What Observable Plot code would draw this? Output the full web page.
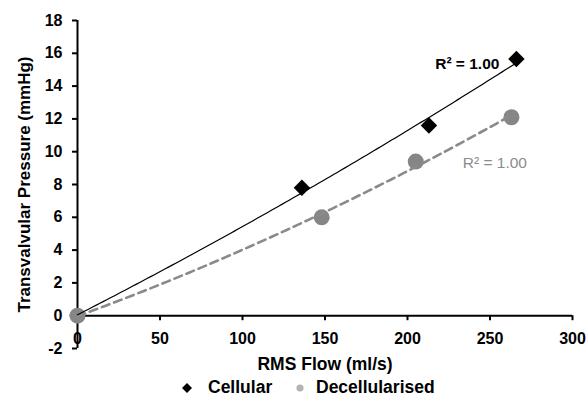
<!DOCTYPE html>
<html>
<head>
<meta charset="utf-8">
<script src="https://cdn.jsdelivr.net/npm/d3@7"></script>
<script src="https://cdn.jsdelivr.net/npm/@observablehq/plot@0.6"></script>
<style>
  html, body { margin: 0; padding: 0; background: #fff; }
  body { width: 587px; height: 397px; overflow: hidden; font-family: "Liberation Sans", Arial, sans-serif; }
  #legend { position: relative; height: 17px; font-weight: bold; font-size: 17.5px; color: #000; }
  .item { position: absolute; top: 0; height: 17px; line-height: 17px; white-space: nowrap; }
  .sw { position: absolute; }
</style>
</head>
<body>
<div id="chart"></div>
<div id="legend"></div>
<script>
// ---- data ----
const seriesNames = ["Cellular", "Decellularised"];
const flowCellular = [0, 136, 213, 266];
const pressureCellular = [0, 7.8, 11.6, 15.65];
const flowDecell = [0, 148, 205, 263];
const pressureDecell = [0, 6.0, 9.4, 12.1];
const xTicks = [0, 50, 100, 150, 200, 250, 300];
const yTicks = [-2, 0, 2, 4, 6, 8, 10, 12, 14, 16, 18];
const r2Labels = ["R\u00b2 = 1.00", "R\u00b2 = 1.00"];
const xLabel = "RMS Flow (ml/s)";
const yLabel = "Transvalvular Pressure (mmHg)";

const cellular = flowCellular.map((x, i) => ({x, y: pressureCellular[i]}));
const decell = flowDecell.map((x, i) => ({x, y: pressureDecell[i]}));

// second-order polynomial trendline (least squares), as in the original chart
function quadFit(pts) {
  let S = [0,0,0,0,0], T = [0,0,0];
  for (const {x, y} of pts) {
    for (let k = 0; k < 5; k++) S[k] += Math.pow(x, k);
    for (let k = 0; k < 3; k++) T[k] += y * Math.pow(x, k);
  }
  const M = [[S[0],S[1],S[2]],[S[1],S[2],S[3]],[S[2],S[3],S[4]]];
  const det = m => m[0][0]*(m[1][1]*m[2][2]-m[1][2]*m[2][1]) - m[0][1]*(m[1][0]*m[2][2]-m[1][2]*m[2][0]) + m[0][2]*(m[1][0]*m[2][1]-m[1][1]*m[2][0]);
  const D = det(M);
  const coef = [0,1,2].map(c => det(M.map((row, r) => row.map((v, j) => j === c ? T[r] : v))) / D);
  const xs = pts.map(p => p.x);
  const x0 = d3.min(xs), x1 = d3.max(xs);
  const n = 120;
  return d3.range(n + 1).map(i => {
    const x = x0 + (x1 - x0) * i / n;
    return {x, y: coef[0] + coef[1]*x + coef[2]*x*x};
  });
}
const trendC = quadFit(cellular);
const trendD = quadFit(decell);

const W = 587, H = 377, mt = 20, mb = 29, ml = 77, mr = 15;
const zeroShift = -(H - mt - mb) * (0 - yTicks[0]) / (yTicks[yTicks.length-1] - yTicks[0]);
const font = "Liberation Sans, Arial, sans-serif";
const grayMark = "#868686";
const fmt = d => String(d);

const chart = Plot.plot({
  width: W, height: H,
  marginTop: mt, marginBottom: mb, marginLeft: ml, marginRight: mr,
  style: {fontFamily: font, color: "#000", background: "#fff", overflow: "visible"},
  x: {domain: [0, 300], axis: null},
  y: {domain: [-2, 18], axis: null},
  marks: [
    Plot.axisY({ticks: yTicks, tickFormat: fmt, tickSize: 5, tickPadding: 10, fontSize: 16, fontWeight: "bold", strokeWidth: 2, label: null}),
    Plot.axisX({ticks: xTicks, tickFormat: fmt, anchor: "bottom", dy: zeroShift, tickSize: 5, tickPadding: 12, fontSize: 16, fontWeight: "bold", strokeWidth: 2, label: null}),
    Plot.ruleX([0], {stroke: "#000", strokeWidth: 2}),
    Plot.ruleY([0], {stroke: "#000", strokeWidth: 2}),
    Plot.text([xLabel], {frameAnchor: "bottom", dy: 16, lineAnchor: "middle", fontSize: 17.5, fontWeight: "bold", fill: "#000"}),
    Plot.text([yLabel], {frameAnchor: "left", textAnchor: "middle", rotate: -90, dx: -53, lineAnchor: "middle", fontSize: 17, fontWeight: "bold", fill: "#000"}),
    Plot.dot(cellular, {x: "x", y: "y", symbol: "diamond2", r: 7.4, fill: "#000", stroke: "none"}),
    Plot.dot(decell, {x: "x", y: "y", r: 8, fill: grayMark, stroke: "none"}),
    Plot.line(trendD, {x: "x", y: "y", stroke: "#8a8a8a", strokeWidth: 2.6, strokeDasharray: "8,5"}),
    Plot.line(trendC, {x: "x", y: "y", stroke: "#000", strokeWidth: 1.2}),
    Plot.text([cellular[cellular.length-1]], {x: "x", y: "y", text: () => r2Labels[0], textAnchor: "end", dx: -17, dy: 4.5, fontSize: 15.5, fontWeight: "bold", fill: "#000"}),
    Plot.text([decell[decell.length-1]], {x: "x", y: "y", text: () => r2Labels[1], textAnchor: "end", dx: 15.5, dy: 46, fontSize: 15.5, fill: "#8c8c8c"})
  ]
});
document.getElementById("chart").appendChild(chart);

// legend below the plot
const legend = document.getElementById("legend");
legend.style.top = "2px";
const items = [
  {name: seriesNames[0], sw: `<svg class="sw" style="left:182px;top:4px" width="10" height="10"><path d="M5,0L10,5L5,10L0,5Z" fill="#000"/></svg>`, textLeft: 208},
  {name: seriesNames[1], sw: `<svg class="sw" style="left:296px;top:5px" width="8" height="8"><circle cx="4" cy="4" r="3.6" fill="#b3b3b3"/></svg>`, textLeft: 316}
];
legend.innerHTML = items.map(it => it.sw + `<span class="item" style="left:${it.textLeft}px">${it.name}</span>`).join("");
</script>
</body>
</html>
